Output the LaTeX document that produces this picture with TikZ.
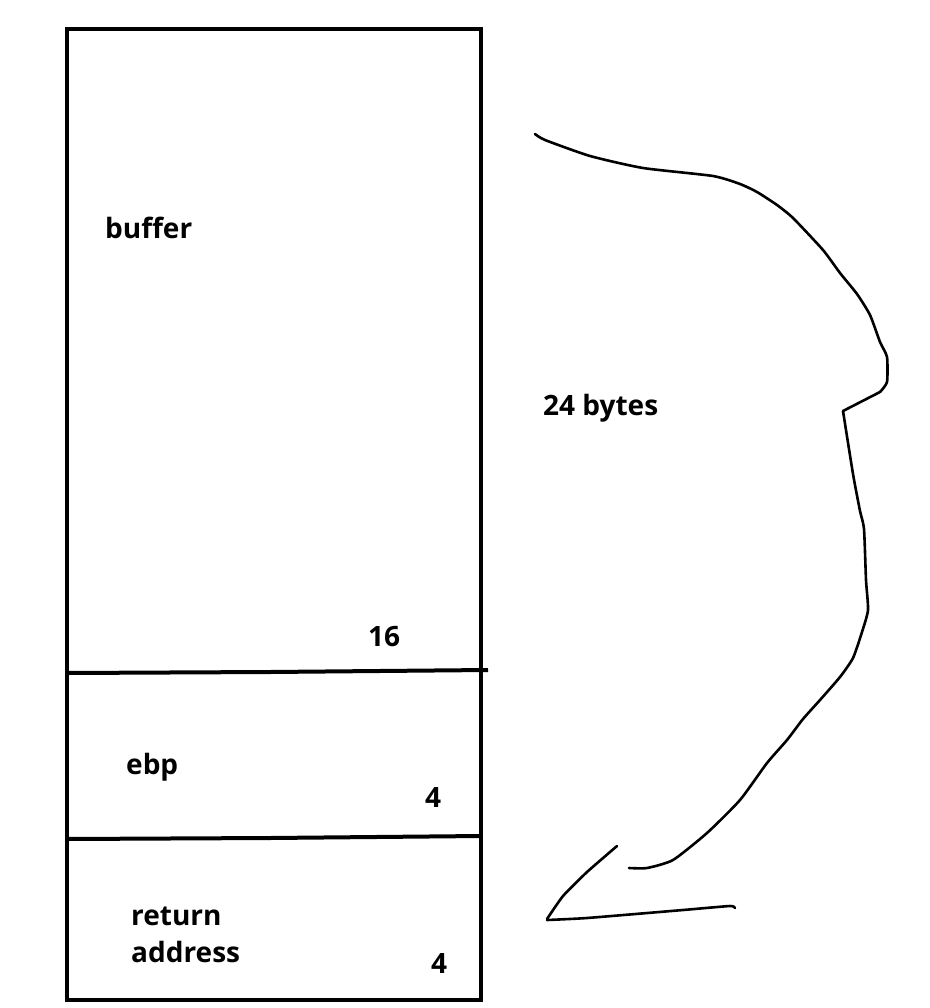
\documentclass[tikz,border=0pt]{standalone}
\usepackage{fontspec}
\setmainfont{Open Sans}
\begin{document}
\begin{tikzpicture}[x=1pt,y=-1pt,
  lbl/.style={font=\fontsize{28}{30}\selectfont\bfseries, anchor=base west, inner sep=0pt},
  boxline/.style={line width=4pt},
  pen/.style={line width=2.6pt, line cap=round, line join=round}]
\useasboundingbox (0,0) rectangle (929,1008);
% stack frame
\draw[boxline] (67,29) rectangle (481,1000);
\draw[boxline] (67,673) -- (270,672) -- (488,670);
\draw[boxline] (67,839) -- (270,838) -- (481,836);
% labels
\node[lbl] (buf) at (105,238) {buffer};
\node[lbl] (n16) at (368,646) {16};
\node[lbl] (ebp) at (126,774) {ebp};
\node[lbl] (n4a) at (425,807) {4};
\node[lbl] (ret) at (131,925) {return};
\node[lbl] (addr) at (131,962) {address};
\node[lbl] (n4b) at (431,973) {4};
\node[lbl] (bytes) at (543,415) {24 bytes};
% freehand arrow
\draw[pen] plot[smooth, tension=0.35] coordinates {
 (535,134) (545,140) (590,156) (643,168) (713,176) (740,184) (757,192)
 (777,205) (793,218) (823,250) (840,273) (857,294) (870,315) (880,342)
 (887,357) (887,382) (880,392)};
\draw[pen] (880,392) -- (843,411);
\draw[pen] plot[smooth, tension=0.35] coordinates {
 (843,411) (853,474) (860,511) (864,529) (866,580) (868,610) (862,632)
 (853,658) (840,677) (820,700) (803,719) (787,740) (767,763) (740,800)
 (707,833) (673,860) (647,868) (629,868)};
\draw[pen] plot[smooth, tension=0.3] coordinates {(617,846) (587,872) (563,896) (547,919)};
\draw[pen] plot[smooth, tension=0.3] coordinates {(547,920) (587,918) (683,910) (730,906) (735,908)};
\end{tikzpicture}
\end{document}
